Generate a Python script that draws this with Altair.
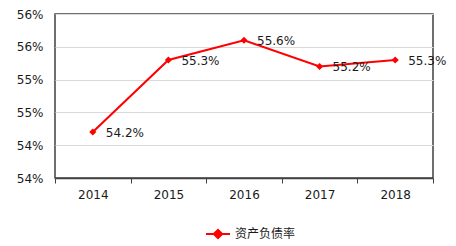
import altair as alt
import pandas as pd

years = ["2014", "2015", "2016", "2017", "2018"]
ratio = [54.2, 55.3, 55.6, 55.2, 55.3]
label_text = ["54.2%", "55.3%", "55.6%", "55.2%", "55.3%"]
series_name = "资产负债率"
y_ticks = [53.5, 54.0, 54.5, 55.0, 55.5, 56.0]
y_tick_labels = ["54%", "54%", "55%", "55%", "56%", "56%"]

df = pd.DataFrame({
    "year": years,
    "ratio": ratio,
    "label": label_text,
    "series": [series_name] * len(years),
})

label_expr = " : ".join(
    f"datum.value == {v} ? '{t}'" for v, t in zip(y_ticks, y_tick_labels)
) + " : ''"

RED = "#FF0000"
FONT = "DejaVu Sans"

x_enc = alt.X("year:N", sort=years, title=None,
              scale=alt.Scale(paddingInner=0, paddingOuter=0),
              axis=alt.Axis(labelAngle=0, tickBand="extent", ticks=True, tickSize=5,
                            tickColor="#404040", domainColor="#404040", domainWidth=1.5,
                            labelFont=FONT, labelFontSize=12, labelColor="#1a1a1a",
                            labelPadding=6, grid=False))
y_enc = alt.Y("ratio:Q", title=None,
              scale=alt.Scale(domain=[y_ticks[0], y_ticks[-1]], nice=False, zero=False),
              axis=alt.Axis(values=y_ticks, labelExpr=label_expr, grid=True,
                            gridColor="#D9D9D9", gridWidth=1, ticks=False, domain=False,
                            labelFont=FONT, labelFontSize=12, labelColor="#1a1a1a",
                            labelPadding=12))

base = alt.Chart(df)

line = base.mark_line(color=RED, strokeWidth=2).encode(x=x_enc, y=y_enc)
points = base.mark_point(shape="diamond", filled=True, size=50, opacity=1).encode(
    x=x_enc, y=y_enc,
    color=alt.Color("series:N", title=None,
                    scale=alt.Scale(domain=[series_name], range=[RED]),
                    legend=alt.Legend(orient="none", legendX=150, legendY=207,
                                      symbolType="M-1,0H1M-0.35,0L0,-0.35L0.35,0L0,0.35Z",
                                      symbolSize=576, symbolStrokeWidth=2,
                                      symbolStrokeColor=RED, symbolFillColor=RED,
                                      labelFont="Noto Sans CJK SC", labelFontSize=12,
                                      labelColor="#1a1a1a", labelOffset=4)),
)
labels = base.mark_text(align="left", baseline="middle", dx=13, dy=1,
                        font=FONT, fontSize=12, color="#1a1a1a").encode(
    x=x_enc, y=y_enc, text="label:N")

chart = alt.layer(line, points, labels).properties(
    width=378, height=164,
    background="white",
    autosize=alt.AutoSizeParams(type="none"),
    padding={"left": 55, "top": 14, "right": 23, "bottom": 68},
).configure_view(stroke="#404040", strokeWidth=1.5)

chart.save("out.html", embed_options={"renderer": "svg", "actions": False})
